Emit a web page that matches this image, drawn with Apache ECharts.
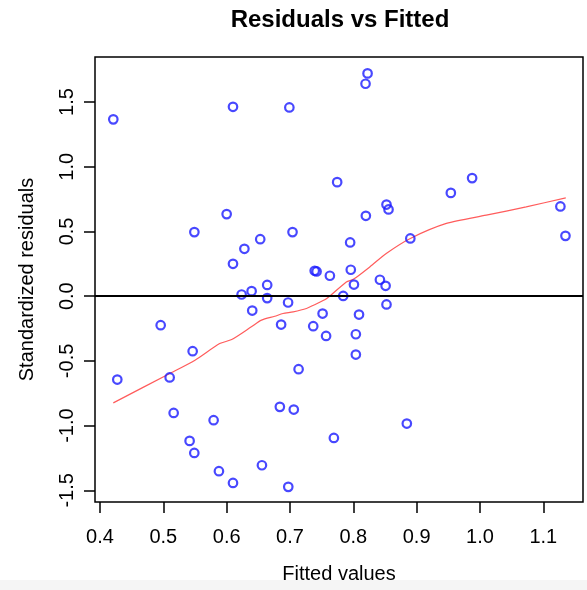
<!DOCTYPE html>
<html>
<head>
<meta charset="utf-8">
<script src="https://cdn.jsdelivr.net/npm/echarts@6/dist/echarts.min.js"></script>
<style>
html,body{margin:0;padding:0;background:#fff;}
#chart{width:587px;height:590px;}
</style>
</head>
<body>
<div id="chart"></div>
<script>
// ---- data ----
const fittedValues = [0.421,0.610,0.699,0.600,0.549,0.704,0.653,0.628,0.610,0.739,0.742,0.763,
  0.8225,0.8193,0.7745,0.9876,0.954,0.8524,0.8556,0.8198,1.127,1.135,0.890,0.795,0.796,0.842,
  0.851,0.801,0.784,0.8524,0.7515,0.809,0.757,0.804,0.804,0.8845,0.7693,0.6236,0.6394,0.664,
  0.664,0.697,0.6404,0.686,0.7367,0.4958,0.5463,0.4273,0.510,0.7136,0.5163,0.5794,0.684,0.706,
  0.5415,0.5489,0.6557,0.5878,0.610,0.6973];
const stdResiduals = [1.366,1.463,1.458,0.634,0.495,0.495,0.440,0.366,0.250,0.196,0.191,0.158,
  1.721,1.641,0.881,0.912,0.798,0.708,0.670,0.621,0.693,0.466,0.446,0.415,0.204,0.127,
  0.080,0.090,0.002,-0.064,-0.134,-0.142,-0.307,-0.294,-0.451,-0.984,-1.095,0.013,0.039,0.087,
  -0.015,-0.049,-0.111,-0.219,-0.232,-0.224,-0.425,-0.644,-0.628,-0.564,-0.902,-0.958,-0.855,-0.876,
  -1.118,-1.211,-1.306,-1.352,-1.443,-1.473];
const smoothX = [0.421,0.508,0.550,0.589,0.608,0.639,0.655,0.676,0.689,0.705,0.726,0.737,0.758,0.789,0.800,0.826,0.852,0.890,0.947,1.010,1.073,1.1355];
const smoothY = [-0.824,-0.603,-0.495,-0.366,-0.335,-0.237,-0.185,-0.155,-0.134,-0.121,-0.095,-0.070,-0.018,0.110,0.130,0.226,0.330,0.446,0.562,0.626,0.690,0.760];
const xTicks = [0.4,0.5,0.6,0.7,0.8,0.9,1.0,1.1];
const yTicks = [-1.5,-1.0,-0.5,0.0,0.5,1.0,1.5];
const titleText = 'Residuals vs Fitted';
const xName = 'Fitted values';
const yName = 'Standardized residuals';

const FONT = '"Liberation Sans", Arial, Helvetica, sans-serif';
const chart = echarts.init(document.getElementById('chart'), null, {renderer:'canvas'});
const points = fittedValues.map((x,i)=>[x, stdResiduals[i]]);
const smooth = smoothX.map((x,i)=>[x, smoothY[i]]);

chart.setOption({
  animation:false,
  backgroundColor:'#ffffff',
  graphic:[
    {type:'rect', shape:{x:0,y:580,width:587,height:10}, style:{fill:'#f5f5f5'}, z:-10, silent:true},
    {type:'text', x:340, y:20, style:{text:titleText, font:'bold 24px '+FONT, fill:'#000', align:'center', verticalAlign:'middle'}}
  ],
  grid:{left:95, right:4, top:57, bottom:88, show:true, borderColor:'#000', borderWidth:1.5, backgroundColor:'transparent'},
  xAxis:{
    type:'value', min:0.3921, max:1.1627,
    name:xName, nameLocation:'middle', nameGap:62,
    nameTextStyle:{fontFamily:FONT, fontSize:20, color:'#000'},
    axisLine:{show:false, onZero:false},
    axisTick:{show:true, inside:false, length:11, customValues:xTicks, lineStyle:{color:'#000', width:1.5}},
    axisLabel:{show:true, margin:25, customValues:xTicks, fontFamily:FONT, fontSize:20, color:'#000',
      formatter:v=>v.toFixed(1)},
    splitLine:{show:false}
  },
  yAxis:{
    type:'value', min:-1.590, max:1.8477,
    name:yName, nameLocation:'middle', nameGap:58, nameRotate:90,
    nameTextStyle:{fontFamily:FONT, fontSize:20, color:'#000'},
    axisLine:{show:false, onZero:false},
    axisTick:{show:true, inside:false, length:11, customValues:yTicks, lineStyle:{color:'#000', width:1.5}},
    axisLabel:{show:true, rotate:90, margin:18, customValues:yTicks, fontFamily:FONT, fontSize:20, color:'#000',
      formatter:v=>v.toFixed(1)},
    splitLine:{show:false}
  },
  series:[
    {
      type:'scatter', data:points, symbol:'circle', symbolSize:8.5,
      itemStyle:{color:'rgba(0,0,0,0)', borderColor:'#1a1aff', borderWidth:2.2},
      z:3,
      markLine:{silent:true, symbol:'none', label:{show:false},
        lineStyle:{color:'#000', width:2, type:'solid'}, data:[{yAxis:0}]}
    },
    {
      type:'line', data:smooth, showSymbol:false, smooth:0.25,
      lineStyle:{color:'#ff5c5c', width:1.2}, z:2
    }
  ]
});
</script>
</body>
</html>
